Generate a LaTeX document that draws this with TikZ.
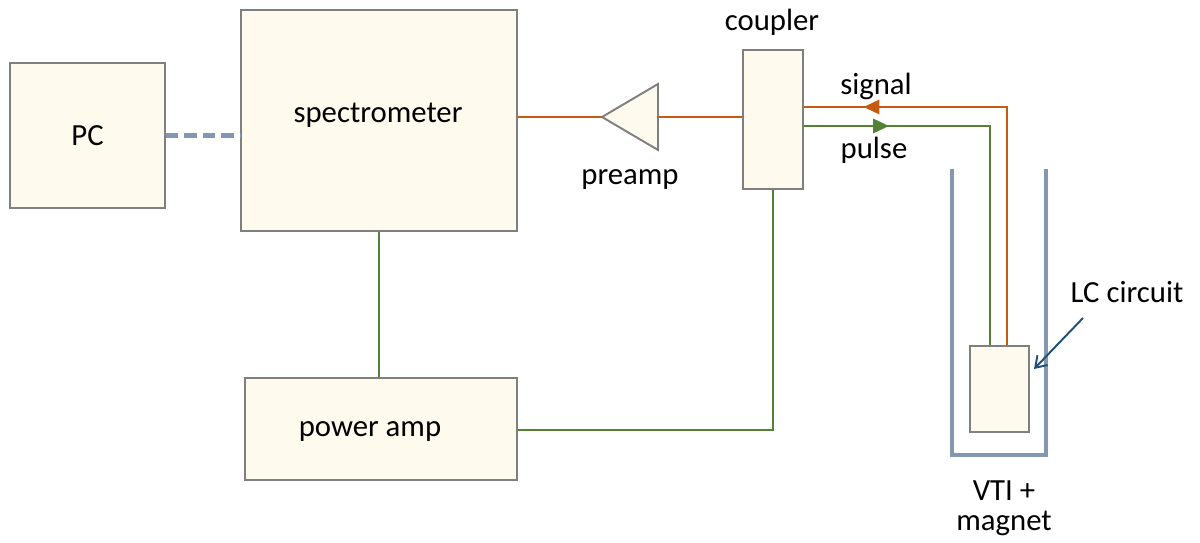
\documentclass[tikz,border=0pt]{standalone}
\usepackage{fontspec}
\setmainfont{Carlito}
\usetikzlibrary{arrows.meta,decorations.markings}
\definecolor{boxfill}{HTML}{FFFAEE}
\definecolor{boxline}{HTML}{7F7F7F}
\definecolor{sigcol}{HTML}{C55A11}
\definecolor{pulcol}{HTML}{548235}
\definecolor{vticol}{HTML}{8497B0}
\definecolor{lccol}{HTML}{1F4E79}
\tikzset{
  unit/.style={draw=boxline,fill=boxfill,line width=1.1pt,inner sep=0pt},
  sigline/.style={draw=sigcol,line width=1.6pt},
  pulline/.style={draw=pulcol,line width=1.6pt},
  arrowat/.style={postaction={decorate},decoration={markings,
    mark=at position #1 with {\arrow{Triangle[length=9pt,width=8pt]}}}},
  txt/.style={font=\fontsize{17.5}{21}\selectfont}
}
\begin{document}
\begin{tikzpicture}[x=0.02cm,y=-0.02cm,every node/.style={txt}]
\useasboundingbox (0,0) rectangle (1200,543);
% boxes
\node[unit,minimum width=155*0.02cm,minimum height=145*0.02cm] (pc) at (87.5,135.5) {PC};
\node[unit,minimum width=276*0.02cm,minimum height=221*0.02cm] (spec) at (379,120.5) {};
\node (spectext) at (378,115) {spectrometer};
\node[unit,minimum width=272*0.02cm,minimum height=102*0.02cm] (pamp) at (381,429) {};
\node (pamptext) at (370,432) {power amp};
\node[unit,minimum width=60*0.02cm,minimum height=139*0.02cm] (coupler) at (773,119.5) {};
\node (couplertext) at (772,22) {coupler};
\node[unit,minimum width=59*0.02cm,minimum height=86*0.02cm] (lc) at (999.5,389) {};
% preamp
\coordinate (pretip) at (602,117);
\draw[unit] (pretip) -- (658,84) -- (658,150) -- cycle;
\coordinate (preback) at (658,117);
\node (preampl) at (630,180) {preamp};
% connections
\draw[vticol,line width=2.8pt,dash pattern=on 7pt off 3.5pt] (pc.east) -- (spec.west |- pc.east);
\draw[sigline] (spec.east |- pretip) -- (pretip);
\draw[sigline] (preback) -- (coupler.west |- preback);
\draw[pulline] (spec.south) -- (pamp.north -| spec.south);
\coordinate (pacorner) at (773,430);
\draw[pulline] (pamp.east |- pacorner) -- (pacorner) -- (coupler.south);
% signal and pulse
\coordinate (sigcorner) at (1007,107);
\coordinate (pulcorner) at (990,126);
\draw[sigline,arrowat=0.865] (lc.north -| sigcorner) -- (sigcorner) -- (coupler.east |- sigcorner);
\draw[pulline,arrowat=0.21] (coupler.east |- pulcorner) -- (pulcorner) -- (lc.north -| pulcorner);
\node (siglabel) at (876,86) {signal};
\node (pullabel) at (874,150) {pulse};
% VTI
\draw[vticol,line width=2.8pt] (952,169) -- (952,455) -- (1046,455) -- (1046,169);
\node[align=center,font=\fontsize{17.5}{17}\selectfont] (vtilabel) at (1004,508) {VTI +\\magnet};
% LC label
\node (lclabel) at (1127,292) {LC circuit};
\coordinate (lcfrom) at (1083,318);
\coordinate (lctip) at (1034,369);
\draw[lccol,line width=1.1pt,-{Straight Barb[length=6pt,width=8pt]}] (lcfrom) -- (lctip);
\end{tikzpicture}
\end{document}
